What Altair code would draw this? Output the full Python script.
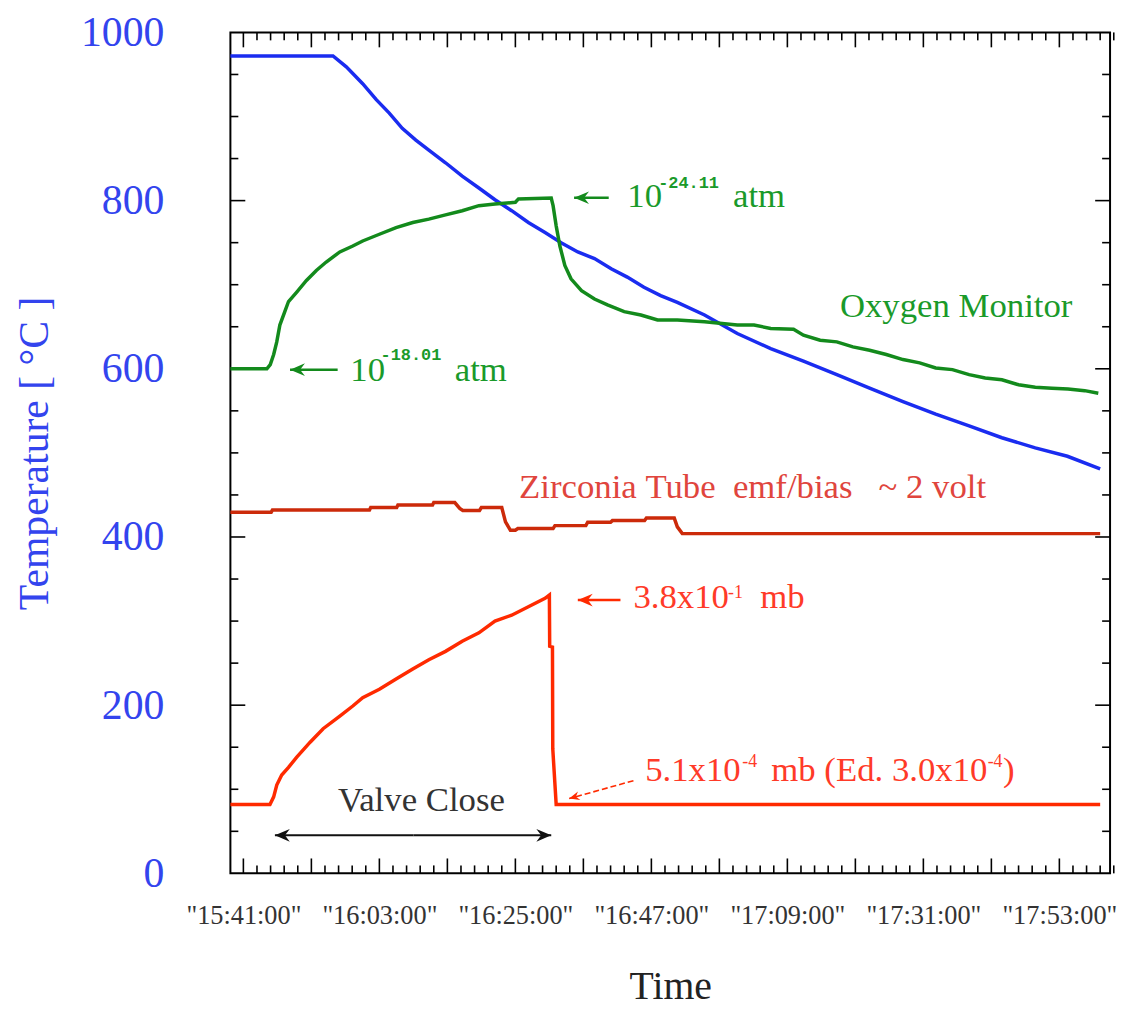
import altair as alt
import pandas as pd

# ---------------- data (time in minutes after 15:41:00) ----------------
T_MIN, T_MAX = -2.1, 140.2
x_label_values = [0, 22, 44, 66, 88, 110, 132]
x_labels = ['"15:41:00"', '"16:03:00"', '"16:25:00"', '"16:47:00"',
            '"17:09:00"', '"17:31:00"', '"17:53:00"']
y_label_values = [0, 200, 400, 600, 800, 1000]

x_major_ticks = [0, 11, 22, 33, 44, 55, 66, 77, 88, 99, 110, 121, 132]
x_minor_ticks = [round(m + k * 2.2, 2) for m in x_major_ticks for k in (1, 2, 3, 4)]
y_major_ticks = [200, 400, 600, 800]
y_minor_ticks = [50, 100, 150, 250, 300, 350, 450, 500, 550, 650, 700, 750, 850, 900, 950]

temp_t = [-2.1, 14.5, 16.65, 19.3, 21.5, 23.6, 25.7, 27.9, 30.0, 32.7, 35.4, 38.1, 40.7,
          43.4, 46.1, 48.8, 51.4, 54.1, 56.8, 59.5, 62.1, 64.8, 67.5, 70.2, 74.6, 79.9,
          85.3, 90.6, 96.0, 101.3, 106.7, 112.0, 117.4, 122.7, 128.1, 133.3, 138.6]
temp_v = [972, 972, 959, 939, 920, 904, 886, 872, 860, 845, 829, 815, 801,
          788, 774, 762, 750, 739, 731, 719, 709, 697, 687, 679, 664, 642,
          624, 609, 593, 577, 561, 546, 532, 518, 506, 496, 481]

oxy_t = [-2.1, 3.8, 4.35, 4.9, 5.4, 5.9, 6.7, 7.3, 8.6, 10.2, 11.8, 13.4, 15.6, 17.7,
         19.3, 22.0, 24.7, 27.4, 30.0, 32.7, 35.4, 38.1, 40.7, 44.0, 44.5, 49.8, 50.1,
         50.6, 51.2, 52.0, 53.0, 54.7, 56.8, 58.9, 61.6, 64.3, 67.0, 70.2, 74.6, 79.9,
         82.6, 85.3, 89.0, 90.6, 93.3, 96.0, 98.6, 101.3, 104.0, 106.7, 109.4, 112.0,
         114.7, 117.4, 120.0, 122.7, 125.4, 128.1, 130.8, 133.4, 136.1, 138.3]
oxy_v = [600, 600, 605, 617, 632, 652, 668, 680, 691, 705, 717, 727, 739, 746,
         752, 760, 768, 774, 778, 783, 788, 794, 796, 798, 802, 803, 794,
         770, 746, 723, 707, 693, 683, 676, 668, 664, 658, 658, 656, 652,
         652, 648, 647, 640, 634, 632, 626, 622, 617, 611, 607, 601,
         599, 593, 589, 587, 581, 578, 577, 576, 574, 571]

zirc_t = [-2.1, 4.5, 4.7, 20.4, 20.6, 24.8, 25.0, 30.6, 30.8, 34.2, 35.0, 35.5, 38.2,
          38.5, 41.8, 42.4, 43.2, 44.0, 44.4, 50.1, 50.4, 55.4, 55.7, 59.4, 59.7, 64.9,
          65.2, 69.7, 70.2, 71.0, 138.6]
zirc_v = [429.5, 429.5, 432, 432, 435, 435, 438, 438, 441, 441, 434, 431.5, 431.5,
          435, 435, 418, 408, 408, 410, 410, 413.5, 413.5, 417.5, 417.5, 419.5, 419.5,
          422.5, 422.5, 412, 404, 404]

pres_t = [-2.1, 4.3, 4.9, 5.4, 6.2, 7.3, 8.6, 10.8, 12.9, 15.6, 17.7, 19.3, 22.0, 24.7,
          27.4, 30.0, 32.7, 35.4, 38.1, 40.7, 43.4, 46.1, 48.8, 49.5, 49.55, 50.0, 50.05,
          50.6, 138.6]
pres_v = [82, 82, 91, 105, 117, 126, 138, 156, 172, 187, 199, 209, 219, 231,
          243, 254, 264, 276, 286, 300, 307, 317, 327, 331, 270, 269, 148, 82, 82]

# annotation texts: (t, v, text)
green_text = [(62.1, 792.8, "10"), (79.2, 792.8, "atm"),
              (17.3, 586.0, "10"), (34.2, 586.0, "atm"),
              (96.5, 661.7, "Oxygen Monitor")]
green_sup = [(67.1, 815.0, "-24.11"), (22.2, 610.7, "-18.01")]
zirc_text = [(44.6, 446.8, "Zirconia\u00a0Tube\u00a0\u00a0emf/bias\u00a0\u00a0\u00a0~\u00a02\u00a0volt")]
red_text = [(63.1, 315.7, "3.8x10"), (83.6, 315.7, "mb"),
            (65.0, 110.2, "5.1x10"), (85.4, 110.2, "mb\u00a0(Ed.\u00a03.0x10"),
            (122.9, 110.2, ")")]
red_sup = [(78.4, 327.5, "-1"), (80.7, 126.3, "-4"), (120.4, 126.3, "-4")]
grey_text = [(15.3, 73.6, "Valve Close")]

# arrows: (tail t, tail v, head t, head v, head angle)
green_arrows = [(59.1, 803.4, 53.5, 803.4, 0), (15.25, 599.0, 7.55, 599.0, 0)]
red_arrows = [(61.0, 325.0, 54.1, 325.0, 0)]
red_dashed_arrows = [(63.1, 110.2, 52.7, 88.9, 344)]
black_arrows = [(27.5, 45.2, 5.1, 45.2, 0), (27.5, 45.2, 49.8, 45.2, 180)]

# ---------------- styling ----------------
W, H = 886, 847
SERIF = "Liberation Serif"
BLUE_TXT = "#3344ee"
labels_js = "[" + ",".join("'" + s + "'" for s in x_labels) + "]"
vals_js = "[" + ",".join(str(v) for v in x_label_values) + "]"

xaxis = alt.Axis(values=x_label_values, labelExpr=f"{labels_js}[indexof({vals_js}, datum.value)]",
                 ticks=False, domain=False, grid=False, labelFont=SERIF, labelFontSize=26.5,
                 labelColor="#333333", labelPadding=30, labelFlush=False, labelOverlap=False,
                 title="Time", titleFont=SERIF, titleFontSize=40, titleFontWeight="normal",
                 titleColor="#222222", titlePadding=38)
yaxis = alt.Axis(values=y_label_values, format="d", ticks=False, domain=False, grid=False,
                 labelFont=SERIF, labelFontSize=42, labelColor=BLUE_TXT, labelPadding=67,
                 title="Temperature [ \u00b0C ]", titleFont=SERIF, titleFontSize=42,
                 titleFontWeight="normal", titleColor=BLUE_TXT, titlePadding=24)

xs = alt.Scale(domain=[T_MIN, T_MAX], nice=False, zero=False)
ys = alt.Scale(domain=[0, 1000], nice=False, zero=False)
X = alt.X("t:Q", scale=xs, axis=xaxis)
Y = alt.Y("v:Q", scale=ys, axis=yaxis)
X2 = alt.X2("t2:Q")
Y2 = alt.Y2("v2:Q")


def series(t, v):
    return pd.DataFrame({"t": t, "v": v, "i": list(range(len(t)))})


def line(t, v, color, width=3.5):
    return alt.Chart(series(t, v)).mark_line(color=color, strokeWidth=width).encode(
        x=X, y=Y, order=alt.Order("i:Q"))


def texts(rows, color, font=SERIF, size=35, weight="normal"):
    d = pd.DataFrame(rows, columns=["t", "v", "txt"])
    return alt.Chart(d).mark_text(align="left", baseline="alphabetic", font=font,
                                  fontSize=size, fontWeight=weight, color=color).encode(
        x=X, y=Y, text="txt:N")


HEAD = "M0,0 L2,-0.85 L1.35,0 L2,0.85 Z"


def arrows(rows, color, width=2.5, dash=None, head_size=225):
    d = pd.DataFrame(rows, columns=["t", "v", "t2", "v2", "a"])
    rule_kw = dict(color=color, strokeWidth=width)
    if dash:
        rule_kw["strokeDash"] = dash
    r = alt.Chart(d).mark_rule(**rule_kw).encode(x=X, y=Y, x2=X2, y2=Y2)
    hd = d[["t2", "v2", "a"]].rename(columns={"t2": "t", "v2": "v"})
    p = alt.Chart(hd).mark_point(shape=HEAD, filled=True, opacity=1, color=color,
                                 size=head_size, strokeWidth=0).encode(
        x=X, y=Y, angle=alt.Angle("a:Q", scale=None))
    return r + p


def xticks(vals, length, top):
    d = pd.DataFrame({"t": vals})
    if top:
        yy, yy2 = alt.value(0), alt.value(length)
    else:
        yy, yy2 = alt.value(H), alt.value(H - length)
    return alt.Chart(d).mark_rule(color="black", strokeWidth=1.6).encode(x=X, y=yy, y2=yy2)


def yticks(vals, length, right):
    d = pd.DataFrame({"v": vals})
    if right:
        xx, xx2 = alt.value(W), alt.value(W - length)
    else:
        xx, xx2 = alt.value(0), alt.value(length)
    return alt.Chart(d).mark_rule(color="black", strokeWidth=1.6).encode(y=Y, x=xx, x2=xx2)


layers = [
    xticks(x_major_ticks, 15, False), xticks(x_minor_ticks, 8, False),
    xticks(x_major_ticks, 15, True), xticks(x_minor_ticks, 8, True),
    yticks(y_major_ticks, 15, False), yticks(y_minor_ticks, 8, False),
    yticks(y_major_ticks, 15, True), yticks(y_minor_ticks, 8, True),
    line(zirc_t, zirc_v, "#cc2a0a"),
    line(pres_t, pres_v, "#ff2a00"),
    line(temp_t, temp_v, "#1a2cf0"),
    line(oxy_t, oxy_v, "#138a1c"),
    arrows(green_arrows, "#138a1c"),
    arrows(red_arrows, "#ff2a00"),
    arrows(red_dashed_arrows, "#ff2a00", width=1.6, dash=[6, 3], head_size=110),
    arrows(black_arrows, "#111111", width=2),
    texts(green_text, "#1a9a2a"),
    texts(green_sup, "#1a9a2a", font="Liberation Mono", size=17, weight="bold"),
    texts(zirc_text, "#e0453d"),
    texts(red_text, "#ff3a28"),
    texts(red_sup, "#ff3a28", size=18),
    texts(grey_text, "#333333"),
]

chart = alt.layer(*layers).properties(
    width=W, height=H,
    autosize=alt.AutoSizeParams(type="none"),
    padding={"left": 224, "top": 21, "right": 8, "bottom": 131},
).configure_view(stroke="black", strokeWidth=2)

chart.save("out.html", embed_options={"renderer": "svg", "actions": False})
